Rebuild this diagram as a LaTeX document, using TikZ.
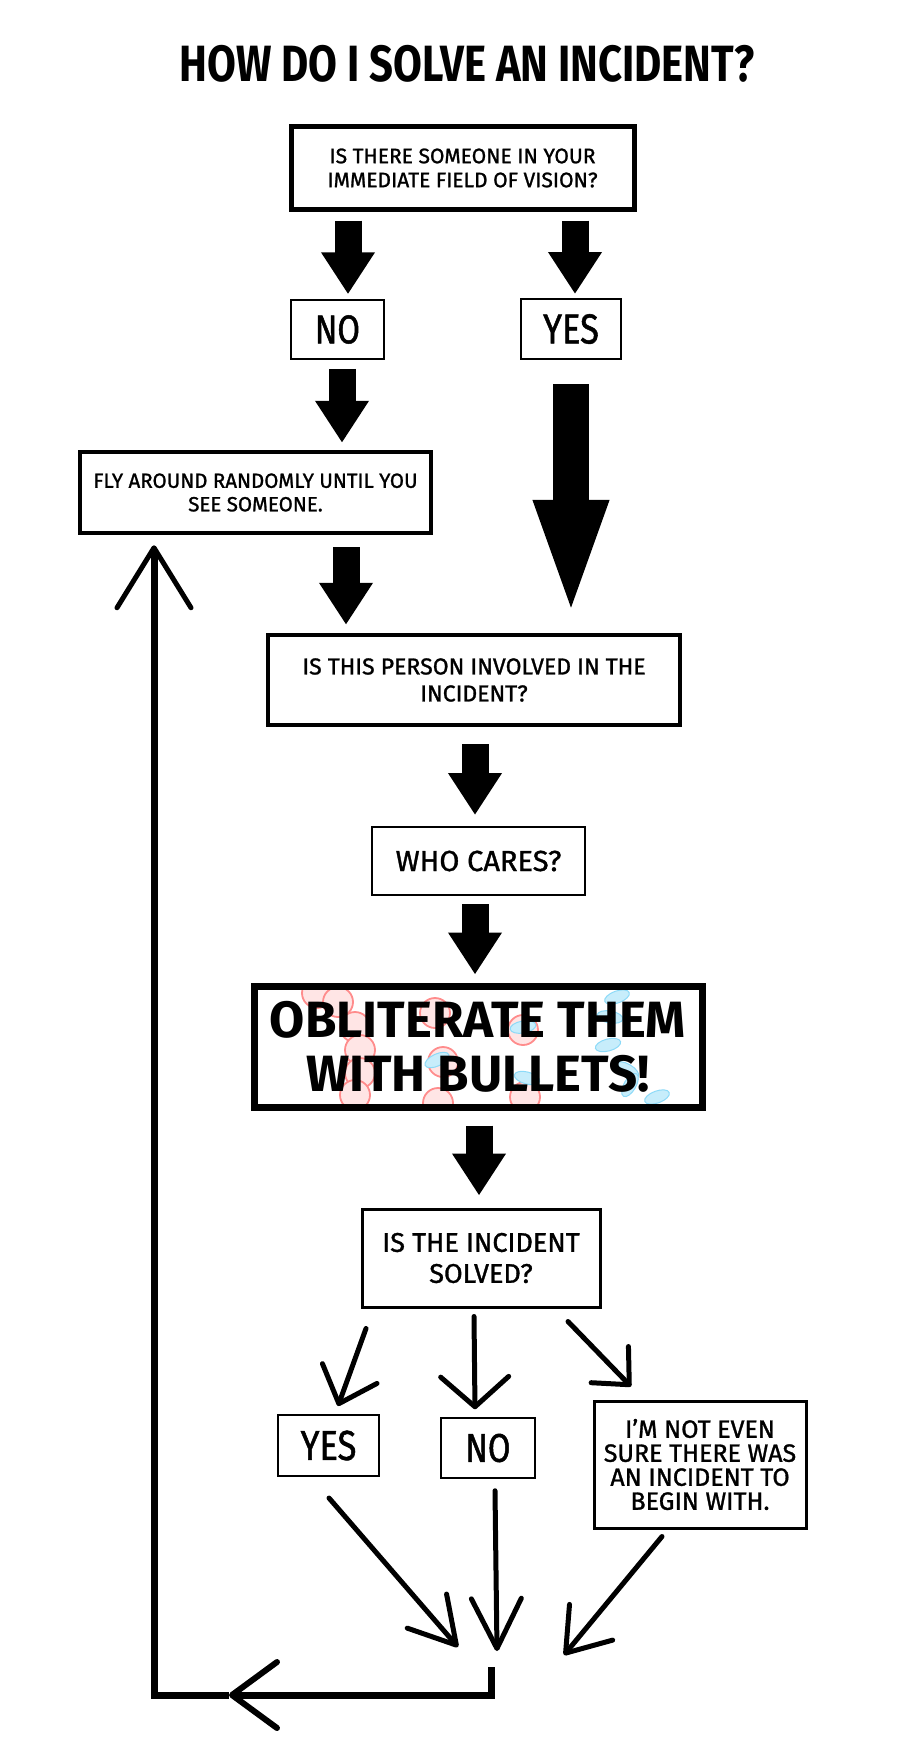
\documentclass[tikz,border=0pt]{standalone}
\usepackage{fontspec}
\newfontfamily\comic[FakeBold=1.2]{Fira Sans}
\newfontfamily\comicn[FakeStretch=0.82,FakeBold=1.2]{Fira Sans}
\newfontfamily\comict[FakeStretch=0.82]{Fira Sans}
\newfontfamily\comicb{Fira Sans}
\usetikzlibrary{arrows.meta,calc}
\begin{document}
\begin{tikzpicture}[x=1pt,y=-1pt,
  box/.style={draw, align=center, inner sep=0pt, text=black},
  blk/.style={line width=27pt, line cap=butt, -{Triangle[length=42pt,width=51pt]}},
  thinln/.style={line width=5pt, line cap=round, line join=round},
  bubble/.style={draw=red!45, fill=pink!40, line width=1.8pt},
  leaf/.style={draw=cyan!45, fill=cyan!22, line width=1pt}
]
\fill[white] (0,0) rectangle (913,1742);
\useasboundingbox (0,0) rectangle (913,1742);

% title
\node (title) at (467,64) {\comict\bfseries\fontsize{51}{54}\selectfont HOW DO I SOLVE AN INCIDENT?};

% boxes
\node[box, line width=5pt, minimum width=343pt, minimum height=82pt,
      font=\comic\fontsize{21}{24}\selectfont] (b1) at (462.5,168)
      {IS THERE SOMEONE IN YOUR\\IMMEDIATE FIELD OF VISION?};
\node[box, line width=1.5pt, minimum width=93pt, minimum height=59pt,
      font=\comicn\fontsize{40}{42}\selectfont] (no1) at (337.5,329.5) {NO};
\node[box, line width=2pt, minimum width=100pt, minimum height=60pt,
      font=\comicn\fontsize{42}{44}\selectfont] (yes1) at (571,329) {YES};
\node[box, line width=4.5pt, minimum width=351pt, minimum height=81pt,
      font=\comic\fontsize{20.5}{23.5}\selectfont] (fly) at (255.5,492.5)
      {FLY AROUND RANDOMLY UNTIL YOU\\SEE SOMEONE.};
\node[box, line width=4.5pt, minimum width=412pt, minimum height=90pt,
      font=\comic\fontsize{23}{27}\selectfont] (person) at (474,680)
      {IS THIS PERSON INVOLVED IN THE\\INCIDENT?};
\node[box, line width=2pt, minimum width=213pt, minimum height=68pt,
      font=\comic\fontsize{29}{32}\selectfont] (who) at (478.5,861) {WHO CARES?};

% decorations inside the big box
\begin{scope}
\clip (256,989) rectangle (700,1104);
\foreach \cx/\cy in {317/993,338/1002,355/1027,360/1050,360/1073,355/1095,
                     435/1013,443/1062,438/1103,523/1030,525/1097}
  \draw[bubble] (\cx,\cy) circle (15);
\foreach \cx/\cy/\r in {617/997/20,610/1017/-10,608/1045/15,627/1070/-30,
                        630/1085/60,657/1097/20,523/1027/10,527/1078/-15,437/1060/25}
  \draw[leaf, rotate around={\r:(\cx,\cy)}] (\cx,\cy) ellipse (13 and 6);
\end{scope}
\node[box, line width=7pt, minimum width=448pt, minimum height=121pt,
      font=\comicb\bfseries\fontsize{51}{54}\selectfont] (obl) at (478,1046.5)
      {OBLITERATE THEM\\WITH BULLETS!};

\node[box, line width=3pt, minimum width=238pt, minimum height=98pt,
      font=\comic\fontsize{27}{31}\selectfont] (solved) at (481,1258)
      {IS THE INCIDENT\\SOLVED?};
\node[box, line width=2pt, minimum width=101pt, minimum height=61pt,
      font=\comicn\fontsize{42}{44}\selectfont] (yes2) at (328.5,1445.5) {YES};
\node[box, line width=1.5pt, minimum width=94pt, minimum height=60pt,
      font=\comicn\fontsize{40}{42}\selectfont] (no2) at (488,1448) {NO};
\node[box, line width=3pt, minimum width=212pt, minimum height=127pt,
      font=\comic\fontsize{25}{24}\selectfont] (notsure) at (700,1464.5)
      {I’M NOT EVEN\\SURE THERE WAS\\AN INCIDENT TO\\BEGIN WITH.};

% block arrows
\draw[blk] ([shift={(-114.5pt,-9pt)}]b1.south) -- ([shift={(10.5pt,5pt)}]no1.north);
\draw[blk] ([shift={(112.5pt,-9pt)}]b1.south) -- ([shift={(4pt,4pt)}]yes1.north);
\draw[blk] ([shift={(4.5pt,-9pt)}]no1.south) -- ([shift={(86.5pt,7pt)}]fly.north);
\draw[line width=36pt, -{Triangle[length=120pt,width=66pt]}]
      ([shift={(0pt,-24pt)}]yes1.south) -- ([shift={(97pt,13pt)}]person.north);
\draw[blk] ([shift={(90.5pt,-12pt)}]fly.south) -- ([shift={(-128pt,8pt)}]person.north);
\draw[blk] ([shift={(1pt,-17pt)}]person.south) -- ([shift={(-3.5pt,11pt)}]who.north);
\draw[blk] ([shift={(-3.5pt,-8pt)}]who.south) -- ([shift={(-3pt,8pt)}]obl.north);
\draw[blk] ([shift={(1pt,-15pt)}]obl.south) -- ([shift={(-2pt,12pt)}]solved.north);

% thin arrows from the question
\draw[thinln, -{Straight Barb[round,length=32pt,width=58pt]}]
      ([shift={(-115pt,-20pt)}]solved.south) -- ([shift={(9.5pt,8pt)}]yes2.north);
\draw[thinln, -{Straight Barb[round,length=30pt,width=68pt]}]
      ([shift={(-7pt,-8pt)}]solved.south) -- ([shift={(-13pt,8pt)}]no2.north);
\draw[thinln, -{Straight Barb[round,length=28pt,width=52pt]}]
      ([shift={(87pt,-13pt)}]solved.south) -- ([shift={(-69pt,13pt)}]notsure.north);

% converging arrows
\coordinate (t1) at (458,1647);
\coordinate (t2) at (497,1651);
\coordinate (t3) at (564,1655);
\coordinate (c0) at (491,1667);
\coordinate (m1) at (229,1695);
\coordinate (lx) at (154,1695);
\draw[thinln, -{Straight Barb[round,length=45pt,width=52pt]}]
      ([shift={(0.5pt,-21pt)}]yes2.south) -- (t1);
\draw[thinln, -{Straight Barb[round,length=50pt,width=50pt]}]
      ([shift={(7pt,-12pt)}]no2.south) -- (t2);
\draw[thinln, -{Straight Barb[round,length=40pt,width=56pt]}]
      ([shift={(-38pt,-7pt)}]notsure.south) -- (t3);

% loop back
\draw[line width=7pt, line join=miter, -{Straight Barb[round,length=45pt,width=66pt,line width=6pt]}]
      (c0) |- (m1);
\draw[line width=7pt, line join=miter, -{Straight Barb[round,length=60pt,width=74pt,line width=5pt]}]
      (m1) -- (lx) -- ([yshift=-10pt]lx |- fly.south);
\end{tikzpicture}
\end{document}
